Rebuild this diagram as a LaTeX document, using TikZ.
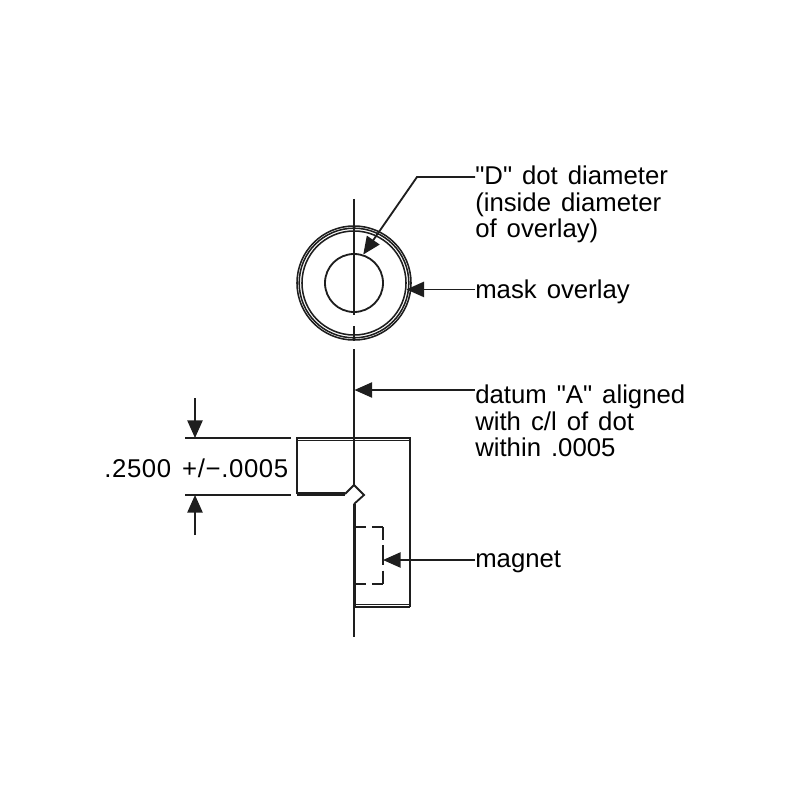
\documentclass[tikz,border=0pt]{standalone}
\usepackage{fontspec}
\setmainfont{Liberation Sans}[WordSpace=1.4]
\usetikzlibrary{
	arrows.meta,
	positioning,
	calc
}
\definecolor{main}{RGB}{30,30,30}
\tikzset{
  % arrow
	cstra/.style      ={-{Triangle[length=0.44cm,width=0.38cm]},main,line width=1.3pt},
  % curve
	cstline/.style    ={main,line width=1.3pt},
	cstthin/.style    ={main,line width=1pt},
	cstthick/.style   ={main,line width=2.5pt},
	cstdashh/.style   ={main,line width=1.3pt, dash pattern= on 0.28cm off 0.14cm on 0.3cm},
	cstdashv/.style   ={main,line width=1.3pt, dash pattern= on 0.33cm off 0.13cm on 0.5cm off 0.13cm on 0.35cm},
  % node
	cstring/.style    ={circle,draw=main,inner sep=0pt,line width=1.1pt},
	csttext/.style    ={anchor=west,inner sep=0pt,align=left,text=black,font=\fontsize{18.3}{18.7}\selectfont}
}
\begin{document}
\begin{tikzpicture}[x=0.025cm,y=-0.025cm]
	\useasboundingbox (0,0) rectangle (800,800);
	% circles
	\node[cstring,minimum size=2.85cm] (ringA) at (354,283) {};
	\node[cstring,minimum size=2.74cm] (ringB) at (354,283) {};
	\node[cstring,minimum size=2.6cm] (ringC) at (354,283) {};
	\node[cstring,line width=1.3pt,minimum size=1.45cm] (hole) at (354,283) {};
	% center line
	\draw[cstline] (354,199)--(354,315);
	\draw[cstline] (354,326)--(354,340);
	\coordinate (lineTop) at (354,349);
	\coordinate (datumTip) at (354.5,390);
	\draw[cstline] (lineTop)--(354,485);
	\draw[cstline] (354,600)--(354,637);
	% body
	\draw[cstline] (297,494)--(297,438)--(410,438)--(410,607);
	\draw[cstthin] (298,440.5)--(409,440.5);
	\draw[cstthick] (297,494)--(345,494);
	\draw[cstline] (345,494)--(354,485)--(364,495)--(354,504);
	\draw[cstthick] (354.5,504)--(354.5,607);
	\draw[cstline] (354,607)--(410,607);
	\draw[cstthin] (355,604.5)--(410,604.5);
	% magnet
	\coordinate (magnetTip) at (383,560);
	\draw[cstdashh] (355,527)--(383,527);
	\draw[cstdashv] (383,527)--(383,584);
	\draw[cstdashh] (355,584)--(383,584);
	% dimension
	\coordinate (dimTop) at (195,438);
	\coordinate (dimBot) at (195,495);
	\coordinate (dimTopEnd) at (195,398);
	\coordinate (dimBotEnd) at (195,535);
	\draw[cstline] (185,438)--(291,438);
	\draw[cstline] (185,495)--(291,495);
	\draw[cstra] (dimTopEnd)--(dimTop);
	\draw[cstra] (dimBotEnd)--(dimBot);
	% labels
	\node[csttext] (dimText) at (104,468) {\addfontfeature{LetterSpace=2.5}.2500 +/−.0005};
	\node[csttext] (dotText) at (475,204.5) {\textquotedbl D\textquotedbl{} dot diameter\\(inside diameter\\of overlay)};
	\node[csttext] (maskText) at (475,292) {mask overlay};
	\node[csttext] (datumText) at (475,421) {datum \textquotedbl A\textquotedbl{} aligned\\with c/l of dot\\within .0005};
	\node[csttext] (magnetText) at (475,562) {magnet};
	% leaders
	\coordinate (dotElbow) at (417,177);
	\coordinate (ringTip) at (ringC.-7);
	\draw[cstra] (dotText.west |- dotElbow)--(dotElbow)--(hole.72);
	\draw[cstra] (maskText.west |- ringTip)--(ringTip);
	\draw[cstra] (datumText.west |- datumTip)--(datumTip);
	\draw[cstra] (magnetText.west |- magnetTip)--(magnetTip);
\end{tikzpicture}
\end{document}
